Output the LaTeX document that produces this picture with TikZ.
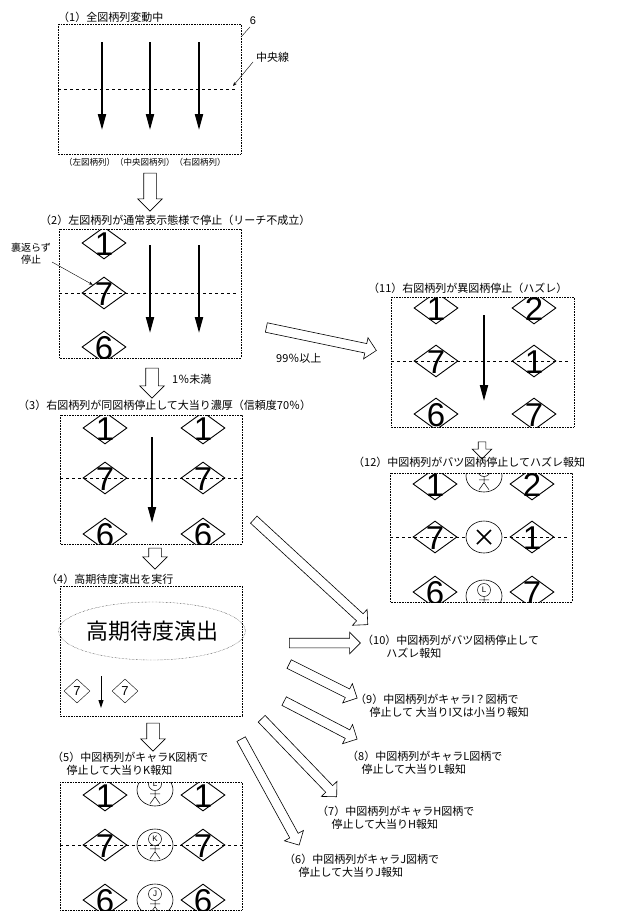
\documentclass[tikz,border=0pt]{standalone}
\usepackage{fontspec}
\newfontfamily\jpfont{Noto Sans CJK JP}
\newfontfamily\digfont{Liberation Sans}
\usetikzlibrary{arrows.meta,calc,shapes.geometric,shapes.arrows}

\tikzset{
  frame/.style={densely dotted, line width=0.6pt},
  midline/.style={dashed, line width=0.5pt},
  spin/.style={line width=2pt, -{Triangle[width=8pt,length=16pt]}},
  lbl/.style={anchor=west, inner sep=0, font=\jpfont\fontsize{11}{13}\selectfont},
  symd/.style={diamond, draw, line width=0.9pt, minimum width=44pt, minimum height=32pt, inner sep=0},
  digit/.style={font=\digfont\fontsize{33}{33}\selectfont, inner sep=0},
  chara/.style={ellipse, draw, line width=0.6pt, minimum width=36pt, minimum height=32pt, inner sep=0},
  head/.style={circle, draw, line width=0.5pt, minimum size=13pt, inner sep=0, font=\digfont\fontsize{8}{8}\selectfont},
}

% symbol: name, x, y, digit
\newcommand\symb[4]{%
  \node[symd] (#1) at (#2,#3) {};
  \node[digit] (#1d) at ($(#1)+(0,1)$) {#4};}
% character: name, x, y, letter
\newcommand\charsym[4]{%
  \node[chara] (#1) at (#2,#3) {};
  \node[head] (#1h) at ($(#1)+(0,-6)$) {#4};
  \draw[line width=0.5pt] (#1h.south) -- ++(0,6) coordinate (#1w) -- ++(-5,7) (#1w) -- ++(5,7)
    ($(#1h.south)+(-5,3)$) -- ++(10,0);}
% hollow arrow: from, to
\newcommand\hollow[3][4.5pt]{%
  \path let \p1=(#2), \p2=(#3), \n1={atan2(\y2-\y1,\x2-\x1)}, \n2={veclen(\x2-\x1,\y2-\y1)} in
    node[single arrow, draw, fill=white, line width=0.6pt, rotate=\n1, minimum height=\n2,
      single arrow head extend=6pt, inner sep=#1, single arrow head indent=0pt]
      at ($(#2)!0.5!(#3)$) {};}

\begin{document}
\begin{tikzpicture}[x=1pt, y=-1pt]
  \useasboundingbox (0,0) rectangle (622,921);

  % (1) all columns spinning
  \node[lbl] (t1) at (58,17) {（1）全図柄列変動中};
  \draw[frame] (58,24) rectangle (241,154);
  \draw[midline] (58,89) -- (236,89);
  \foreach \x in {102,150,199} \draw[spin] (\x,42) -- (\x,130);
  \node[font=\digfont\fontsize{11}{11}\selectfont] (n6) at (253,21) {6};
  \draw[thin] (241,37) -- (250,27);
  \node[lbl] (tmid) at (256,57) {中央線};
  \draw[thin, -{Stealth[length=4pt]}] (253,62) -- (233,86);
  \node[lbl, font=\jpfont\fontsize{8.5}{10}\selectfont] (tcols) at (64,162) {（左図柄列）（中央図柄列）（右図柄列）};
  \hollow[6pt]{150,170}{150,208}

  % (2)
  \node[lbl] (t2) at (40,220) {（2）左図柄列が通常表示態様で停止（リーチ不成立）};
  \begin{scope}
    \clip (59,229) rectangle (241,358);
    \draw[midline] (59,293) -- (236,293);
    \symb{a1}{104}{243}{1}
    \symb{a2}{104}{293}{7}
    \symb{a3}{104}{347}{6}
  \end{scope}
  \draw[frame] (59,229) rectangle (241,358);
  \foreach \x in {150,199} \draw[spin] (\x,245) -- (\x,333);
  \node[lbl, font=\jpfont\fontsize{10}{12}\selectfont, align=center, anchor=center] (turn) at (31,254) {裏返らず\\停止};
  \draw[thin, -{Stealth[length=4pt]}] (52,262) -- (a2.north west);
  \hollow{264,327}{374,350}
  \node[lbl] (p99) at (276,358) {99％以上};
  \hollow[6pt]{152,365}{152,395}
  \node[lbl] (p1) at (172,379) {1％未満};

  % (3)
  \node[lbl] (t3) at (18,405) {（3）右図柄列が同図柄停止して大当り濃厚（信頼度70％）};
  \begin{scope}
    \clip (60,415) rectangle (242,544);
    \draw[midline] (60,478) -- (242,478);
    \symb{b1}{105}{428}{1} \symb{b2}{105}{478}{7} \symb{b3}{105}{534}{6}
    \symb{b4}{203}{428}{1} \symb{b5}{203}{478}{7} \symb{b6}{203}{534}{6}
  \end{scope}
  \draw[frame] (60,415) rectangle (242,544);
  \draw[spin] (152,437) -- (152,523);
  \hollow[6pt]{155,545}{155,566}

  % (4)
  \node[lbl] (t4) at (46,579) {（4）高期待度演出を実行};
  \draw[frame] (60,586) rectangle (242,716);
  \node[ellipse, draw, densely dotted, minimum width=162pt, minimum height=58pt, inner sep=0,
    font=\jpfont\fontsize{22}{22}\selectfont] (hype) at (152,631) {高期待度演出};
  \node[diamond, draw, minimum width=26pt, minimum height=24pt, inner sep=0,
    font=\digfont\fontsize{13}{13}\selectfont] (s1) at (77,691) {7};
  \node[diamond, draw, minimum width=26pt, minimum height=24pt, inner sep=0,
    font=\digfont\fontsize{13}{13}\selectfont] (s2) at (125,691) {7};
  \draw[line width=1pt, -{Triangle[width=5pt,length=8pt]}] (101,676) -- (101,708);
  \hollow[6pt]{153,720}{153,748}

  % (5)
  \node[lbl, align=left] (t5) at (52,764) {（5）中図柄列がキャラK図柄で\\\hspace{1.3em}停止して大当りK報知};
  \begin{scope}
    \clip (60,782) rectangle (242,910);
    \draw[midline] (60,845) -- (242,845);
    \symb{c1}{105}{795}{1} \symb{c2}{105}{845}{7} \symb{c3}{105}{900}{6}
    \symb{c4}{203}{795}{1} \symb{c5}{203}{845}{7} \symb{c6}{203}{900}{6}
    \charsym{k1}{155}{790}{L}
    \charsym{k2}{155}{845}{K}
    \charsym{k3}{155}{900}{J}
  \end{scope}
  \draw[frame] (60,782) rectangle (242,910);

  % (11)
  \node[lbl] (t11) at (368,288) {（11）右図柄列が異図柄停止（ハズレ）};
  \begin{scope}
    \clip (391,297) rectangle (574,427);
    \draw[midline] (391,361) -- (570,361);
    \symb{d1}{436}{308}{1} \symb{d2}{436}{361}{7} \symb{d3}{436}{414}{6}
    \symb{d4}{534}{308}{2} \symb{d5}{534}{361}{1} \symb{d6}{534}{414}{7}
  \end{scope}
  \draw[frame] (391,297) rectangle (574,427);
  \draw[spin] (484,315) -- (484,401);
  \hollow[3.5pt]{482,440}{482,457}

  % (12)
  \node[lbl] (t12) at (353,462) {（12）中図柄列がバツ図柄停止してハズレ報知};
  \begin{scope}
    \clip (390,473) rectangle (572,602);
    \draw[midline] (390,537) -- (568,537);
    \symb{e1}{435}{484}{1} \symb{e2}{435}{537}{7} \symb{e3}{435}{592}{6}
    \symb{e4}{532}{484}{2} \symb{e5}{532}{537}{1} \symb{e6}{532}{592}{7}
    \charsym{h1}{484}{476}{L}
    \node[chara, fill=white] (xx) at (484,537) {};
    \draw[line width=1.6pt] ($(xx)+(-7,-7)$) -- ($(xx)+(7,7)$) ($(xx)+(-7,7)$) -- ($(xx)+(7,-7)$);
    \charsym{h3}{484}{596}{L}
  \end{scope}
  \draw[frame] (390,473) rectangle (572,602);

  % outcomes from (4)
  \hollow{252,518}{366,623}
  \hollow{287,643}{358,643}
  \node[lbl, align=left] (t10) at (362,647) {（10）中図柄列がバツ図柄停止して\\\hspace{2.2em}ハズレ報知};
  \hollow{287,663}{355,697}
  \node[lbl, align=left] (t9) at (355,706) {（9）中図柄列がキャラI？図柄で\\\hspace{1.3em}停止して 大当りI又は小当り報知};
  \hollow{282,700}{355,738}
  \node[lbl, align=left] (t8) at (347,763) {（8）中図柄列がキャラL図柄で\\\hspace{1.3em}停止して大当りL報知};
  \hollow{260,717}{335,795}
  \node[lbl, align=left] (t7) at (317,818) {（7）中図柄列がキャラH図柄で\\\hspace{1.3em}停止して大当りH報知};
  \hollow{240,737}{298,843}
  \node[lbl, align=left] (t6) at (284,866) {（6）中図柄列がキャラJ図柄で\\\hspace{1.3em}停止して大当りJ報知};
\end{tikzpicture}
\end{document}
